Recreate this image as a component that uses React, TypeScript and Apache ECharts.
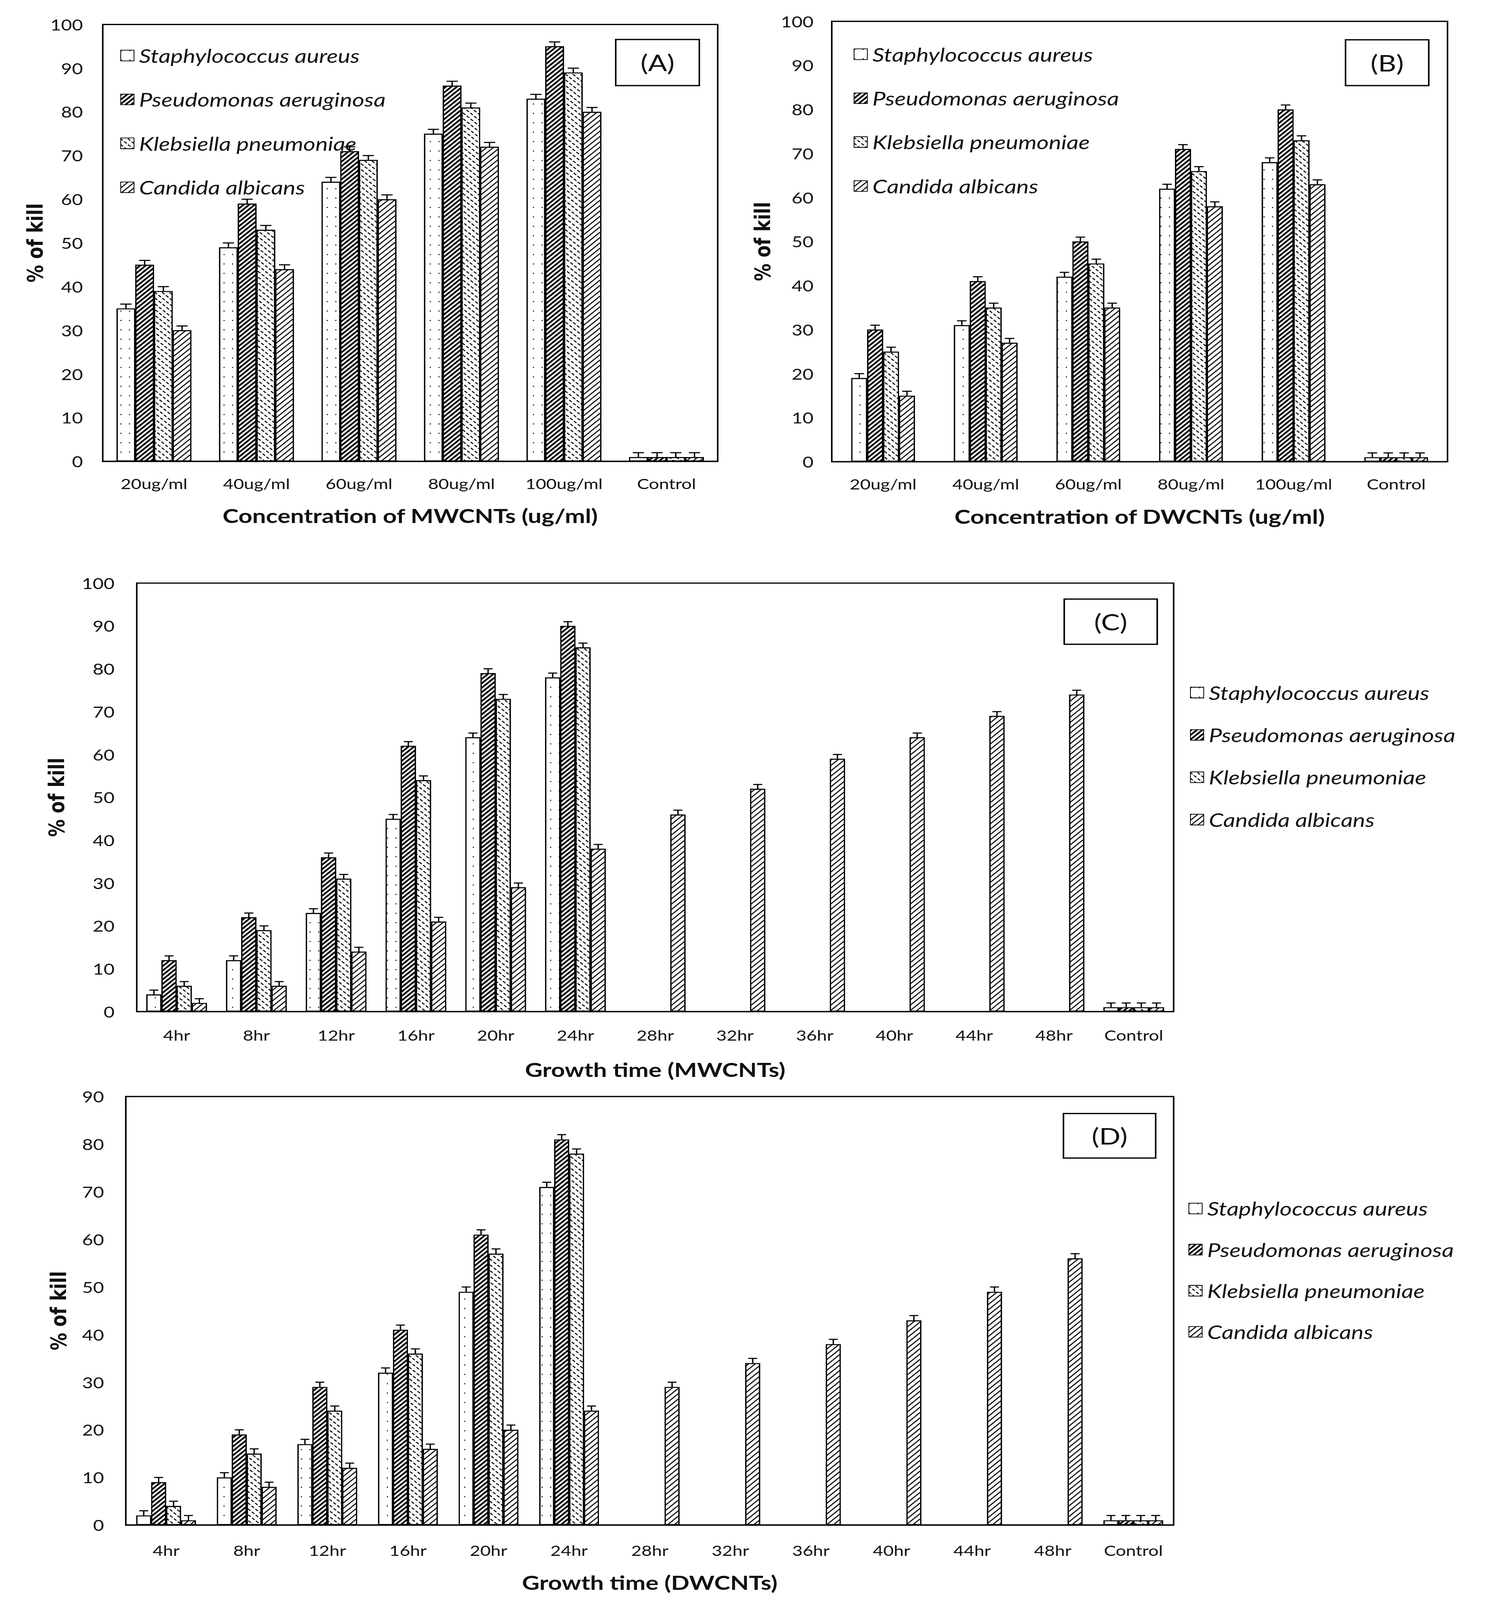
import React, { useEffect, useRef } from 'react';
import * as echarts from 'echarts';

const SPECIES = ['Staphylococcus aureus', 'Pseudomonas aeruginosa', 'Klebsiella pneumoniae', 'Candida albicans'];

const concCategories = ['20ug/ml', '40ug/ml', '60ug/ml', '80ug/ml', '100ug/ml', 'Control'];
const timeCategories = ['4hr', '8hr', '12hr', '16hr', '20hr', '24hr', '28hr', '32hr', '36hr', '40hr', '44hr', '48hr', 'Control'];

// (A) MWCNTs concentration
const mwConcSa = [35, 49, 64, 75, 83, 1];
const mwConcPa = [45, 59, 71, 86, 95, 1];
const mwConcKp = [39, 53, 69, 81, 89, 1];
const mwConcCa = [30, 44, 60, 72, 80, 1];
const mwConcErr = [1, 1, 1, 1, 1, 1];

// (B) DWCNTs concentration
const dwConcSa = [19, 31, 42, 62, 68, 1];
const dwConcPa = [30, 41, 50, 71, 80, 1];
const dwConcKp = [25, 35, 45, 66, 73, 1];
const dwConcCa = [15, 27, 35, 58, 63, 1];
const dwConcErr = [1, 1, 1, 1, 1, 1];

// (C) MWCNTs growth time
const mwTimeSa = [4, 12, 23, 45, 64, 78, null, null, null, null, null, null, 1];
const mwTimePa = [12, 22, 36, 62, 79, 90, null, null, null, null, null, null, 1];
const mwTimeKp = [6, 19, 31, 54, 73, 85, null, null, null, null, null, null, 1];
const mwTimeCa = [2, 6, 14, 21, 29, 38, 46, 52, 59, 64, 69, 74, 1];
const mwTimeErr = [1, 1, 1, 1, 1, 1, 1, 1, 1, 1, 1, 1, 1];

// (D) DWCNTs growth time
const dwTimeSa = [2, 10, 17, 32, 49, 71, null, null, null, null, null, null, 1];
const dwTimePa = [9, 19, 29, 41, 61, 81, null, null, null, null, null, null, 1];
const dwTimeKp = [4, 15, 24, 36, 57, 78, null, null, null, null, null, null, 1];
const dwTimeCa = [1, 8, 12, 16, 20, 24, 29, 34, 38, 43, 49, 56, 1];
const dwTimeErr = [1, 1, 1, 1, 1, 1, 1, 1, 1, 1, 1, 1, 1];

const yTicksA = { min: 0, max: 100, interval: 10 };
const yTicksD = { min: 0, max: 90, interval: 10 };

const DESIGN_W = 3824;
const DESIGN_H = 5101;

const FONT = 'Lato';
const TXT = '#111';

const decals: any[] = [
  { symbol: 'rect', symbolSize: 1, color: '#000', backgroundColor: '#fff', dashArrayX: [3, 19], dashArrayY: [3, 27], rotation: 0 },
  { symbol: 'rect', symbolSize: 1, color: '#000', backgroundColor: '#fff', dashArrayX: [1, 0], dashArrayY: [5, 5], rotation: -Math.PI / 4 },
  { symbol: 'rect', symbolSize: 1, color: '#000', backgroundColor: '#fff', dashArrayX: [9, 5], dashArrayY: [2.5, 10], rotation: Math.PI / 4 },
  { symbol: 'rect', symbolSize: 1, color: '#000', backgroundColor: '#fff', dashArrayX: [1, 0], dashArrayY: [2.5, 9], rotation: -Math.PI / 4 },
];

type Panel = {
  grid: { left: number; top: number; width: number; height: number };
  cats: string[];
  values: (number | null)[][];
  errs: number[];
  yRange: { min: number; max: number; interval: number };
  gap: number;
  xTitle: string;
  xLabelMargin: number;
  xNameGap: number;
  yLabelMargin: number;
  yNameGap: number;
  legend: { left: number; top: number; itemGap: number };
  box: { x: number; y: number; w: number; h: number; label: string };
};

const panels: Panel[] = [
  {
    grid: { left: 263, top: 78, width: 1574, height: 1393 },
    cats: concCategories,
    values: [mwConcSa, mwConcPa, mwConcKp, mwConcCa],
    errs: mwConcErr,
    yRange: yTicksA,
    gap: 0.27,
    xTitle: 'Concentration of MWCNTs (ug/ml)',
    xLabelMargin: 48,
    xNameGap: 142,
    yLabelMargin: 51,
    yNameGap: 145,
    legend: { left: 303, top: 142, itemGap: 80 },
    box: { x: 1574, y: 124, w: 214, h: 147, label: '(A)' },
  },
  {
    grid: { left: 2129, top: 68, width: 1576, height: 1404 },
    cats: concCategories,
    values: [dwConcSa, dwConcPa, dwConcKp, dwConcCa],
    errs: dwConcErr,
    yRange: yTicksA,
    gap: 0.38,
    xTitle: 'Concentration of DWCNTs (ug/ml)',
    xLabelMargin: 48,
    xNameGap: 143,
    yLabelMargin: 47,
    yNameGap: 149,
    legend: { left: 2180, top: 138, itemGap: 80 },
    box: { x: 3442, y: 125, w: 213, h: 146, label: '(B)' },
  },
  {
    grid: { left: 350, top: 1859, width: 2654, height: 1366 },
    cats: timeCategories,
    values: [mwTimeSa, mwTimePa, mwTimeKp, mwTimeCa],
    errs: mwTimeErr,
    yRange: yTicksA,
    gap: 0.24,
    xTitle: 'Growth time (MWCNTs)',
    xLabelMargin: 52,
    xNameGap: 154,
    yLabelMargin: 57,
    yNameGap: 177,
    legend: { left: 3041, top: 2173, itemGap: 75 },
    box: { x: 2722, y: 1908, w: 238, h: 144, label: '(C)' },
  },
  {
    grid: { left: 322, top: 3496, width: 2682, height: 1366 },
    cats: timeCategories,
    values: [dwTimeSa, dwTimePa, dwTimeKp, dwTimeCa],
    errs: dwTimeErr,
    yRange: yTicksD,
    gap: 0.26,
    xTitle: 'Growth time (DWCNTs)',
    xLabelMargin: 58,
    xNameGap: 152,
    yLabelMargin: 56,
    yNameGap: 144,
    legend: { left: 3037, top: 3818, itemGap: 71 },
    box: { x: 2720, y: 3548, w: 236, h: 142, label: '(D)' },
  },
];

function buildOption() {
  const grid: any[] = [];
  const xAxis: any[] = [];
  const yAxis: any[] = [];
  const series: any[] = [];
  const legend: any[] = [];
  const graphic: any[] = [];

  panels.forEach((p, pi) => {
    grid.push({
      ...p.grid,
      containLabel: false,
      show: true,
      borderColor: '#000',
      borderWidth: 4,
      backgroundColor: 'transparent',
    });
    xAxis.push({
      type: 'category',
      gridIndex: pi,
      data: p.cats,
      axisLine: { show: true, lineStyle: { color: '#000', width: 4 } },
      axisTick: { show: false },
      axisLabel: { interval: 0, margin: p.xLabelMargin, fontFamily: FONT, fontSize: 46, color: TXT },
      splitLine: { show: false },
      name: p.xTitle,
      nameLocation: 'middle',
      nameGap: p.xNameGap,
      nameTextStyle: { fontFamily: FONT, fontWeight: 'bold', fontSize: 62, color: TXT },
    });
    yAxis.push({
      type: 'value',
      gridIndex: pi,
      min: p.yRange.min,
      max: p.yRange.max,
      interval: p.yRange.interval,
      axisLine: { show: true, lineStyle: { color: '#000', width: 4 } },
      axisTick: { show: false },
      axisLabel: { margin: p.yLabelMargin, fontFamily: FONT, fontSize: 48, color: TXT },
      splitLine: { show: false },
      name: '% of kill',
      nameLocation: 'middle',
      nameGap: p.yNameGap,
      nameTextStyle: { fontFamily: 'DejaVu Sans', fontWeight: 'bold', fontSize: 56, color: TXT },
    });

    p.values.forEach((vals, si) => {
      series.push({
        type: 'bar',
        name: SPECIES[si],
        xAxisIndex: pi,
        yAxisIndex: pi,
        data: vals.map((v) => (v == null ? '-' : v)),
        barGap: '0%',
        barCategoryGap: Math.round(p.gap * 100) + '%',
        itemStyle: { color: '#fff', borderColor: '#000', borderWidth: 3, decal: decals[si] },
        emphasis: { disabled: true },
      });
    });

    p.values.forEach((vals, si) => {
      const data: any[] = [];
      vals.forEach((v, ci) => {
        if (v != null) data.push([ci, v, p.errs[ci]]);
      });
      const gap = p.gap;
      series.push({
        type: 'custom',
        name: 'err-' + pi + '-' + si,
        xAxisIndex: pi,
        yAxisIndex: pi,
        z: 5,
        silent: true,
        data,
        renderItem: (params: any, api: any) => {
          const ci = api.value(0);
          const v = api.value(1);
          const e = api.value(2);
          const base = api.coord([ci, v]);
          const top = api.coord([ci, v + e]);
          const band = api.size([1, 0])[0];
          const total = band * (1 - gap);
          const bw = total / 4;
          const x = base[0] - total / 2 + bw * (si + 0.5);
          const cap = bw * 0.6;
          const style = { stroke: '#000', lineWidth: 3.5, fill: 'none' };
          return {
            type: 'group',
            children: [
              { type: 'line', shape: { x1: x, y1: base[1], x2: x, y2: top[1] }, style },
              { type: 'line', shape: { x1: x - cap / 2, y1: top[1], x2: x + cap / 2, y2: top[1] }, style },
            ],
          };
        },
      });
    });

    legend.push({
      orient: 'vertical',
      left: p.legend.left,
      top: p.legend.top,
      itemGap: p.legend.itemGap,
      itemWidth: 34,
      itemHeight: 34,
      icon: 'rect',
      selectedMode: false,
      data: SPECIES,
      textStyle: {
        fontFamily: FONT,
        fontStyle: 'italic',
        fontSize: 60,
        color: TXT,
        padding: [0, 0, 0, 8],
      },
    });

    graphic.push({
      type: 'group',
      left: p.box.x,
      top: p.box.y,
      children: [
        {
          type: 'rect',
          shape: { x: 0, y: 0, width: p.box.w, height: p.box.h },
          style: { fill: '#fff', stroke: '#000', lineWidth: 4 },
        },
        {
          type: 'text',
          x: p.box.w / 2,
          y: p.box.h / 2,
          style: {
            text: p.box.label,
            fontFamily: FONT,
            fontSize: 72,
            fill: TXT,
            align: 'center',
            verticalAlign: 'middle',
          },
        },
      ],
    });
  });

  return {
    animation: false,
    backgroundColor: '#fff',
    grid,
    xAxis,
    yAxis,
    series,
    legend,
    graphic,
  };
}

export default function App() {
  const ref = useRef<HTMLDivElement>(null);
  const vw = typeof window !== 'undefined' ? window.innerWidth : DESIGN_W;
  const vh = typeof window !== 'undefined' ? window.innerHeight : DESIGN_H;
  const sx = Math.min(1, vw / DESIGN_W);
  const sy = Math.min(1, vh / DESIGN_H);
  useEffect(() => {
    if (!ref.current) return;
    const chart = echarts.init(ref.current, null, { renderer: 'svg' });
    chart.setOption(buildOption() as any);
    return () => chart.dispose();
  }, []);
  return (
    <div
      ref={ref}
      style={{
        position: 'absolute',
        left: 0,
        top: 0,
        width: DESIGN_W,
        height: DESIGN_H,
        background: '#fff',
        transform: `scale(${sx}, ${sy})`,
        transformOrigin: '0 0',
      }}
    />
  );
}
